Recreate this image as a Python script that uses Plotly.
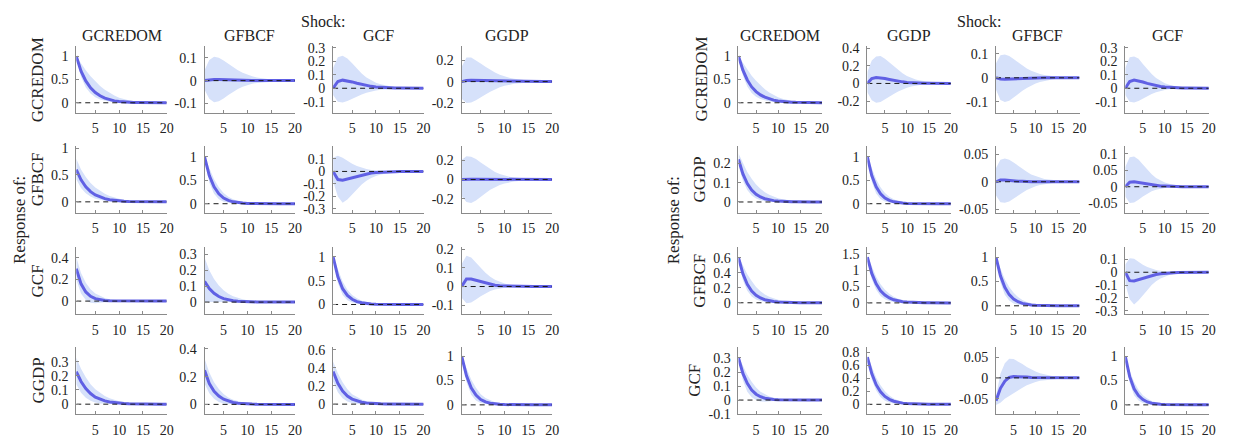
import plotly.graph_objects as go

# ---------------- data ----------------
HORIZON = list(range(1, 21))
X_TICKS = [5, 10, 15, 20]

LEFT_SHOCKS = ["GCREDOM", "GFBCF", "GCF", "GGDP"]
LEFT_RESP = ["GCREDOM", "GFBCF", "GCF", "GGDP"]
RIGHT_SHOCKS = ["GCREDOM", "GGDP", "GFBCF", "GCF"]
RIGHT_RESP = ["GCREDOM", "GGDP", "GFBCF", "GCF"]

# ---- left block ----
L11_mid = [1.00, 0.68, 0.47, 0.32, 0.22, 0.15, 0.10, 0.065, 0.04, 0.025, 0.015, 0.01, 0.006, 0.004, 0.002, 0.001, 0.001, 0, 0, 0]
L11_hi = [1.00, 0.84, 0.70, 0.57, 0.46, 0.36, 0.28, 0.21, 0.155, 0.11, 0.08, 0.055, 0.038, 0.026, 0.018, 0.012, 0.008, 0.005, 0.003, 0.002]
L11_lo = [1.00, 0.56, 0.33, 0.20, 0.12, 0.07, 0.04, 0.022, 0.012, 0.006, 0.003, 0.001, 0, 0, 0, 0, 0, 0, 0, 0]
L11_ticks = [0, 0.5, 1]
L11_range = [-0.21, 1.21]

L12_mid = [0, 0.004, 0.005, 0.005, 0.004, 0.004, 0.003, 0.003, 0.002, 0.002, 0.001, 0.001, 0.001, 0.001, 0, 0, 0, 0, 0, 0]
L12_hi = [0.045, 0.09, 0.105, 0.10, 0.088, 0.073, 0.058, 0.045, 0.034, 0.026, 0.019, 0.014, 0.01, 0.007, 0.005, 0.004, 0.003, 0.002, 0.002, 0.001]
L12_lo = [-0.04, -0.08, -0.095, -0.09, -0.078, -0.063, -0.049, -0.037, -0.027, -0.02, -0.014, -0.01, -0.007, -0.005, -0.004, -0.003, -0.002, -0.001, -0.001, -0.001]
L12_ticks = [-0.1, 0, 0.1]
L12_range = [-0.14, 0.15]

L13_mid = [0, 0.05, 0.06, 0.056, 0.047, 0.037, 0.028, 0.02, 0.014, 0.01, 0.007, 0.005, 0.003, 0.002, 0.001, 0.001, 0, 0, 0, 0]
L13_hi = [0.15, 0.23, 0.24, 0.22, 0.185, 0.145, 0.11, 0.08, 0.058, 0.041, 0.029, 0.02, 0.014, 0.01, 0.007, 0.005, 0.003, 0.002, 0.002, 0.001]
L13_lo = [-0.05, -0.1, -0.105, -0.095, -0.08, -0.062, -0.046, -0.033, -0.023, -0.016, -0.011, -0.007, -0.005, -0.003, -0.002, -0.001, -0.001, 0, 0, 0]
L13_ticks = [-0.1, 0, 0.1, 0.2, 0.3]
L13_range = [-0.18, 0.31]

L14_mid = [0, 0.01, 0.012, 0.011, 0.009, 0.007, 0.005, 0.004, 0.003, 0.002, 0.001, 0.001, 0.001, 0, 0, 0, 0, 0, 0, 0]
L14_hi = [0.14, 0.225, 0.225, 0.2, 0.17, 0.14, 0.11, 0.085, 0.065, 0.048, 0.036, 0.026, 0.019, 0.014, 0.01, 0.007, 0.005, 0.004, 0.003, 0.002]
L14_lo = [-0.16, -0.2, -0.195, -0.175, -0.15, -0.12, -0.095, -0.072, -0.054, -0.04, -0.029, -0.021, -0.015, -0.011, -0.008, -0.006, -0.004, -0.003, -0.002, -0.001]
L14_ticks = [-0.2, 0, 0.2]
L14_range = [-0.29, 0.33]

L21_mid = [0.6, 0.41, 0.28, 0.19, 0.13, 0.088, 0.06, 0.041, 0.028, 0.019, 0.013, 0.009, 0.006, 0.004, 0.003, 0.002, 0.001, 0.001, 0, 0]
L21_hi = [0.8, 0.6, 0.46, 0.35, 0.265, 0.2, 0.15, 0.11, 0.08, 0.057, 0.04, 0.028, 0.02, 0.014, 0.01, 0.007, 0.005, 0.003, 0.002, 0.002]
L21_lo = [0.42, 0.26, 0.16, 0.1, 0.06, 0.036, 0.021, 0.012, 0.007, 0.004, 0.002, 0.001, 0, 0, 0, 0, 0, 0, 0, 0]
L21_ticks = [0, 0.5, 1]
L21_range = [-0.2, 1.03]

L22_mid = [1, 0.6, 0.36, 0.21, 0.12, 0.07, 0.04, 0.023, 0.013, 0.007, 0.004, 0.002, 0.001, 0.001, 0, 0, 0, 0, 0, 0]
L22_hi = [1, 0.75, 0.52, 0.35, 0.23, 0.15, 0.095, 0.06, 0.037, 0.023, 0.014, 0.009, 0.005, 0.003, 0.002, 0.001, 0.001, 0, 0, 0]
L22_lo = [1, 0.45, 0.21, 0.095, 0.042, 0.018, 0.007, 0.003, 0.001, 0, 0, 0, 0, 0, 0, 0, 0, 0, 0, 0]
L22_ticks = [0, 0.5, 1]
L22_range = [-0.19, 1.22]

L23_mid = [0, -0.065, -0.07, -0.06, -0.048, -0.037, -0.027, -0.019, -0.013, -0.009, -0.006, -0.004, -0.003, -0.002, -0.001, -0.001, 0, 0, 0, 0]
L23_hi = [0.11, 0.125, 0.11, 0.085, 0.062, 0.043, 0.029, 0.019, 0.012, 0.008, 0.005, 0.003, 0.002, 0.001, 0.001, 0, 0, 0, 0, 0]
L23_lo = [-0.08, -0.2, -0.25, -0.225, -0.185, -0.145, -0.105, -0.075, -0.052, -0.036, -0.025, -0.017, -0.011, -0.007, -0.005, -0.003, -0.002, -0.001, -0.001, 0]
L23_ticks = [-0.3, -0.2, -0.1, 0, 0.1]
L23_range = [-0.33, 0.2]

L24_mid = [0, 0.004, 0.004, 0.003, 0.003, 0.002, 0.002, 0.001, 0.001, 0.001, 0, 0, 0, 0, 0, 0, 0, 0, 0, 0]
L24_hi = [0.2, 0.24, 0.235, 0.21, 0.175, 0.14, 0.105, 0.078, 0.057, 0.041, 0.029, 0.021, 0.015, 0.01, 0.007, 0.005, 0.004, 0.003, 0.002, 0.001]
L24_lo = [-0.17, -0.23, -0.24, -0.215, -0.18, -0.14, -0.105, -0.078, -0.057, -0.041, -0.029, -0.021, -0.015, -0.01, -0.007, -0.005, -0.004, -0.003, -0.002, -0.001]
L24_ticks = [-0.2, 0, 0.2]
L24_range = [-0.34, 0.34]

L31_mid = [0.3, 0.16, 0.085, 0.045, 0.023, 0.012, 0.006, 0.003, 0.002, 0.001, 0, 0, 0, 0, 0, 0, 0, 0, 0, 0]
L31_hi = [0.41, 0.26, 0.17, 0.11, 0.07, 0.045, 0.028, 0.018, 0.011, 0.007, 0.004, 0.003, 0.002, 0.001, 0.001, 0, 0, 0, 0, 0]
L31_lo = [0.2, 0.07, 0.01, -0.015, -0.02, -0.015, -0.01, -0.006, -0.003, -0.002, -0.001, 0, 0, 0, 0, 0, 0, 0, 0, 0]
L31_ticks = [0, 0.2, 0.4]
L31_range = [-0.12, 0.5]

L32_mid = [0.13, 0.085, 0.055, 0.035, 0.022, 0.013, 0.008, 0.005, 0.003, 0.002, 0.001, 0.001, 0, 0, 0, 0, 0, 0, 0, 0]
L32_hi = [0.28, 0.2, 0.145, 0.105, 0.075, 0.053, 0.037, 0.026, 0.018, 0.012, 0.008, 0.005, 0.003, 0.002, 0.001, 0.001, 0, 0, 0, 0]
L32_lo = [-0.005, 0, 0, -0.002, -0.003, -0.003, -0.002, -0.002, -0.001, -0.001, 0, 0, 0, 0, 0, 0, 0, 0, 0, 0]
L32_ticks = [0, 0.1, 0.2, 0.3]
L32_range = [-0.075, 0.345]

L33_mid = [1, 0.58, 0.33, 0.19, 0.11, 0.06, 0.035, 0.02, 0.011, 0.006, 0.003, 0.002, 0.001, 0, 0, 0, 0, 0, 0, 0]
L33_hi = [1, 0.72, 0.48, 0.31, 0.2, 0.13, 0.08, 0.05, 0.03, 0.018, 0.011, 0.007, 0.004, 0.002, 0.001, 0.001, 0, 0, 0, 0]
L33_lo = [1, 0.45, 0.2, 0.09, 0.04, 0.017, 0.007, 0.003, 0.001, 0, 0, 0, 0, 0, 0, 0, 0, 0, 0, 0]
L33_ticks = [0, 0.5, 1]
L33_range = [-0.2, 1.2]

L34_mid = [0, 0.04, 0.04, 0.033, 0.025, 0.017, 0.011, 0.007, 0.004, 0.003, 0.002, 0.001, 0.001, 0, 0, 0, 0, 0, 0, 0]
L34_hi = [0.12, 0.165, 0.155, 0.13, 0.1, 0.074, 0.052, 0.036, 0.024, 0.016, 0.01, 0.007, 0.004, 0.003, 0.002, 0.001, 0.001, 0, 0, 0]
L34_lo = [-0.06, -0.09, -0.085, -0.07, -0.052, -0.036, -0.024, -0.016, -0.01, -0.006, -0.004, -0.002, -0.001, -0.001, 0, 0, 0, 0, 0, 0]
L34_ticks = [-0.1, 0, 0.1, 0.2]
L34_range = [-0.147, 0.21]

L41_mid = [0.23, 0.16, 0.11, 0.075, 0.05, 0.034, 0.023, 0.015, 0.01, 0.007, 0.005, 0.003, 0.002, 0.001, 0.001, 0, 0, 0, 0, 0]
L41_hi = [0.33, 0.25, 0.19, 0.14, 0.105, 0.078, 0.057, 0.041, 0.03, 0.021, 0.015, 0.011, 0.008, 0.005, 0.004, 0.003, 0.002, 0.001, 0.001, 0.001]
L41_lo = [0.14, 0.08, 0.045, 0.025, 0.012, 0.005, 0.002, 0.001, 0, 0, 0, 0, 0, 0, 0, 0, 0, 0, 0, 0]
L41_ticks = [0, 0.1, 0.2, 0.3]
L41_range = [-0.07, 0.4]

L42_mid = [0.245, 0.15, 0.095, 0.06, 0.037, 0.023, 0.014, 0.009, 0.005, 0.003, 0.002, 0.001, 0.001, 0, 0, 0, 0, 0, 0, 0]
L42_hi = [0.33, 0.23, 0.16, 0.11, 0.075, 0.05, 0.034, 0.023, 0.015, 0.01, 0.007, 0.005, 0.003, 0.002, 0.001, 0.001, 0, 0, 0, 0]
L42_lo = [0.15, 0.08, 0.04, 0.018, 0.007, 0.002, 0, -0.001, -0.001, 0, 0, 0, 0, 0, 0, 0, 0, 0, 0, 0]
L42_ticks = [0, 0.2, 0.4]
L42_range = [-0.07, 0.41]

L43_mid = [0.36, 0.23, 0.145, 0.09, 0.056, 0.035, 0.021, 0.013, 0.008, 0.005, 0.003, 0.002, 0.001, 0.001, 0, 0, 0, 0, 0, 0]
L43_hi = [0.47, 0.34, 0.24, 0.165, 0.11, 0.075, 0.05, 0.033, 0.022, 0.014, 0.009, 0.006, 0.004, 0.002, 0.002, 0.001, 0.001, 0, 0, 0]
L43_lo = [0.25, 0.13, 0.065, 0.03, 0.012, 0.004, 0.001, 0, 0, 0, 0, 0, 0, 0, 0, 0, 0, 0, 0, 0]
L43_ticks = [0, 0.2, 0.4, 0.6]
L43_range = [-0.11, 0.625]

L44_mid = [1, 0.6, 0.35, 0.2, 0.11, 0.06, 0.035, 0.02, 0.011, 0.006, 0.003, 0.002, 0.001, 0, 0, 0, 0, 0, 0, 0]
L44_hi = [1, 0.75, 0.52, 0.35, 0.22, 0.14, 0.09, 0.055, 0.034, 0.02, 0.012, 0.007, 0.004, 0.003, 0.002, 0.001, 0, 0, 0, 0]
L44_lo = [1, 0.47, 0.21, 0.09, 0.04, 0.016, 0.006, 0.002, 0, 0, 0, 0, 0, 0, 0, 0, 0, 0, 0, 0]
L44_ticks = [0, 0.5, 1]
L44_range = [-0.19, 1.18]

# ---- right block ----
R11_mid = [1, 0.7, 0.49, 0.34, 0.24, 0.17, 0.12, 0.08, 0.056, 0.039, 0.027, 0.019, 0.013, 0.009, 0.006, 0.004, 0.003, 0.002, 0.001, 0.001]
R11_hi = [1, 0.85, 0.71, 0.58, 0.47, 0.37, 0.29, 0.22, 0.165, 0.12, 0.088, 0.063, 0.045, 0.032, 0.022, 0.015, 0.01, 0.007, 0.005, 0.003]
R11_lo = [1, 0.58, 0.35, 0.21, 0.13, 0.08, 0.048, 0.028, 0.016, 0.009, 0.005, 0.003, 0.001, 0.001, 0, 0, 0, 0, 0, 0]
R11_ticks = [0, 0.5, 1]
R11_range = [-0.21, 1.21]

R12_mid = [0, 0.055, 0.068, 0.064, 0.055, 0.045, 0.034, 0.025, 0.018, 0.012, 0.008, 0.005, 0.004, 0.002, 0.002, 0.001, 0.001, 0, 0, 0]
R12_hi = [0.13, 0.26, 0.305, 0.31, 0.28, 0.24, 0.19, 0.15, 0.115, 0.085, 0.063, 0.046, 0.034, 0.025, 0.018, 0.013, 0.009, 0.006, 0.004, 0.003]
R12_lo = [-0.1, -0.19, -0.22, -0.21, -0.18, -0.15, -0.12, -0.09, -0.066, -0.048, -0.035, -0.025, -0.018, -0.013, -0.009, -0.006, -0.004, -0.003, -0.002, -0.001]
R12_ticks = [-0.2, 0, 0.2, 0.4]
R12_range = [-0.33, 0.42]

R13_mid = [0, -0.005, -0.006, -0.005, -0.004, -0.003, -0.002, -0.002, -0.001, -0.001, 0, 0, 0, 0, 0, 0, 0, 0, 0, 0]
R13_hi = [0.06, 0.093, 0.096, 0.09, 0.078, 0.064, 0.05, 0.038, 0.029, 0.021, 0.016, 0.011, 0.008, 0.006, 0.004, 0.003, 0.002, 0.002, 0.001, 0.001]
R13_lo = [-0.05, -0.092, -0.1, -0.095, -0.082, -0.068, -0.054, -0.042, -0.032, -0.024, -0.017, -0.012, -0.009, -0.006, -0.004, -0.003, -0.002, -0.002, -0.001, -0.001]
R13_ticks = [-0.1, 0, 0.1]
R13_range = [-0.144, 0.13]

R14_mid = [0, 0.05, 0.06, 0.055, 0.046, 0.036, 0.027, 0.019, 0.013, 0.009, 0.006, 0.004, 0.002, 0.001, 0.001, 0, 0, 0, 0, 0]
R14_hi = [0.15, 0.23, 0.235, 0.22, 0.18, 0.14, 0.105, 0.075, 0.053, 0.037, 0.026, 0.018, 0.012, 0.008, 0.006, 0.004, 0.003, 0.002, 0.001, 0.001]
R14_lo = [-0.05, -0.1, -0.105, -0.095, -0.078, -0.06, -0.043, -0.03, -0.02, -0.013, -0.008, -0.005, -0.003, -0.002, -0.001, -0.001, 0, 0, 0, 0]
R14_ticks = [-0.1, 0, 0.1, 0.2, 0.3]
R14_range = [-0.18, 0.31]

R21_mid = [0.22, 0.145, 0.095, 0.062, 0.04, 0.026, 0.017, 0.011, 0.007, 0.005, 0.003, 0.002, 0.001, 0.001, 0, 0, 0, 0, 0, 0]
R21_hi = [0.25, 0.2, 0.155, 0.12, 0.09, 0.068, 0.05, 0.037, 0.027, 0.019, 0.014, 0.01, 0.007, 0.005, 0.003, 0.002, 0.002, 0.001, 0.001, 0]
R21_lo = [0.19, 0.11, 0.062, 0.034, 0.018, 0.009, 0.004, 0.002, 0.001, 0, 0, 0, 0, 0, 0, 0, 0, 0, 0, 0]
R21_ticks = [0, 0.1, 0.2]
R21_range = [-0.055, 0.287]

R22_mid = [1, 0.6, 0.36, 0.21, 0.12, 0.07, 0.04, 0.023, 0.013, 0.007, 0.004, 0.002, 0.001, 0.001, 0, 0, 0, 0, 0, 0]
R22_hi = [1, 0.74, 0.52, 0.35, 0.23, 0.15, 0.095, 0.06, 0.037, 0.023, 0.014, 0.009, 0.005, 0.003, 0.002, 0.001, 0.001, 0, 0, 0]
R22_lo = [1, 0.47, 0.22, 0.1, 0.045, 0.02, 0.008, 0.003, 0.001, 0, 0, 0, 0, 0, 0, 0, 0, 0, 0, 0]
R22_ticks = [0, 0.5, 1]
R22_range = [-0.19, 1.22]

R23_mid = [0, 0.003, 0.003, 0.002, 0.002, 0.001, 0.001, 0, 0, 0, 0, 0, 0, 0, 0, 0, 0, 0, 0, 0]
R23_hi = [0.025, 0.04, 0.042, 0.04, 0.035, 0.029, 0.023, 0.018, 0.013, 0.01, 0.007, 0.005, 0.004, 0.003, 0.002, 0.001, 0.001, 0.001, 0, 0]
R23_lo = [-0.025, -0.037, -0.038, -0.036, -0.031, -0.025, -0.02, -0.015, -0.011, -0.008, -0.006, -0.004, -0.003, -0.002, -0.001, -0.001, -0.001, 0, 0, 0]
R23_ticks = [-0.05, 0, 0.05]
R23_range = [-0.056, 0.064]

R24_mid = [0, 0.014, 0.015, 0.013, 0.01, 0.008, 0.005, 0.004, 0.002, 0.002, 0.001, 0.001, 0, 0, 0, 0, 0, 0, 0, 0]
R24_hi = [0.06, 0.09, 0.092, 0.083, 0.068, 0.052, 0.038, 0.027, 0.019, 0.013, 0.009, 0.006, 0.004, 0.003, 0.002, 0.001, 0.001, 0, 0, 0]
R24_lo = [-0.03, -0.05, -0.048, -0.04, -0.03, -0.021, -0.014, -0.009, -0.006, -0.004, -0.002, -0.001, -0.001, 0, 0, 0, 0, 0, 0, 0]
R24_ticks = [-0.05, 0, 0.05, 0.1]
R24_range = [-0.079, 0.123]

R31_mid = [0.6, 0.385, 0.245, 0.157, 0.1, 0.064, 0.041, 0.026, 0.017, 0.011, 0.007, 0.004, 0.003, 0.002, 0.001, 0.001, 0, 0, 0, 0]
R31_hi = [0.62, 0.5, 0.38, 0.29, 0.21, 0.155, 0.11, 0.08, 0.057, 0.04, 0.028, 0.02, 0.014, 0.01, 0.007, 0.005, 0.003, 0.002, 0.002, 0.001]
R31_lo = [0.58, 0.3, 0.16, 0.085, 0.045, 0.023, 0.012, 0.006, 0.003, 0.001, 0, 0, 0, 0, 0, 0, 0, 0, 0, 0]
R31_ticks = [0, 0.2, 0.4, 0.6]
R31_range = [-0.15, 0.74]

R32_mid = [1.4, 0.9, 0.58, 0.37, 0.24, 0.15, 0.095, 0.06, 0.038, 0.024, 0.015, 0.01, 0.006, 0.004, 0.002, 0.002, 0.001, 0.001, 0, 0]
R32_hi = [1.45, 1.1, 0.8, 0.57, 0.4, 0.28, 0.19, 0.13, 0.09, 0.06, 0.04, 0.027, 0.018, 0.012, 0.008, 0.005, 0.003, 0.002, 0.002, 0.001]
R32_lo = [1.3, 0.72, 0.4, 0.21, 0.11, 0.055, 0.027, 0.012, 0.005, 0.002, 0.001, 0, 0, 0, 0, 0, 0, 0, 0, 0]
R32_ticks = [0, 0.5, 1, 1.5]
R32_range = [-0.34, 1.7]

R33_mid = [1, 0.62, 0.38, 0.23, 0.14, 0.085, 0.05, 0.03, 0.018, 0.011, 0.006, 0.004, 0.002, 0.001, 0.001, 0, 0, 0, 0, 0]
R33_hi = [1, 0.76, 0.55, 0.39, 0.27, 0.18, 0.12, 0.08, 0.052, 0.034, 0.022, 0.014, 0.009, 0.006, 0.004, 0.002, 0.001, 0.001, 0, 0]
R33_lo = [1, 0.48, 0.23, 0.11, 0.05, 0.022, 0.009, 0.003, 0.001, 0, 0, 0, 0, 0, 0, 0, 0, 0, 0, 0]
R33_ticks = [0, 0.5, 1]
R33_range = [-0.17, 1.21]

R34_mid = [0, -0.065, -0.068, -0.058, -0.047, -0.036, -0.026, -0.018, -0.012, -0.008, -0.005, -0.003, -0.002, -0.001, -0.001, 0, 0, 0, 0, 0]
R34_hi = [0.06, 0.11, 0.105, 0.08, 0.058, 0.04, 0.027, 0.018, 0.012, 0.007, 0.004, 0.003, 0.002, 0.001, 0.001, 0, 0, 0, 0, 0]
R34_lo = [-0.09, -0.21, -0.25, -0.22, -0.18, -0.14, -0.1, -0.07, -0.048, -0.033, -0.022, -0.015, -0.01, -0.007, -0.005, -0.003, -0.002, -0.001, -0.001, 0]
R34_ticks = [-0.3, -0.2, -0.1, 0, 0.1]
R34_range = [-0.325, 0.195]

R41_mid = [0.3, 0.19, 0.12, 0.072, 0.042, 0.024, 0.013, 0.007, 0.004, 0.002, 0.001, 0.001, 0, 0, 0, 0, 0, 0, 0, 0]
R41_hi = [0.31, 0.24, 0.18, 0.13, 0.09, 0.06, 0.04, 0.026, 0.017, 0.011, 0.007, 0.004, 0.003, 0.002, 0.001, 0.001, 0, 0, 0, 0]
R41_lo = [0.29, 0.14, 0.06, 0.02, 0, -0.01, -0.012, -0.01, -0.007, -0.005, -0.003, -0.002, -0.001, -0.001, 0, 0, 0, 0, 0, 0]
R41_ticks = [-0.1, 0, 0.1, 0.2, 0.3]
R41_range = [-0.1, 0.375]

R42_mid = [0.72, 0.47, 0.3, 0.19, 0.12, 0.076, 0.047, 0.029, 0.018, 0.011, 0.007, 0.004, 0.003, 0.002, 0.001, 0.001, 0, 0, 0, 0]
R42_hi = [0.75, 0.57, 0.41, 0.29, 0.2, 0.135, 0.09, 0.06, 0.04, 0.026, 0.017, 0.011, 0.007, 0.005, 0.003, 0.002, 0.001, 0.001, 0, 0]
R42_lo = [0.68, 0.38, 0.21, 0.11, 0.055, 0.027, 0.012, 0.005, 0.002, 0.001, 0, 0, 0, 0, 0, 0, 0, 0, 0, 0]
R42_ticks = [0, 0.2, 0.4, 0.6, 0.8]
R42_range = [-0.15, 0.87]

R43_mid = [-0.055, -0.025, -0.008, 0.001, 0.003, 0.003, 0.002, 0.002, 0.001, 0.001, 0, 0, 0, 0, 0, 0, 0, 0, 0, 0]
R43_hi = [-0.045, 0.01, 0.035, 0.046, 0.045, 0.04, 0.033, 0.026, 0.02, 0.015, 0.011, 0.008, 0.006, 0.004, 0.003, 0.002, 0.001, 0.001, 0.001, 0]
R43_lo = [-0.065, -0.06, -0.05, -0.042, -0.036, -0.03, -0.024, -0.018, -0.014, -0.01, -0.007, -0.005, -0.004, -0.003, -0.002, -0.001, -0.001, 0, 0, 0]
R43_ticks = [-0.05, 0, 0.05]
R43_range = [-0.087, 0.073]

R44_mid = [1, 0.58, 0.33, 0.19, 0.11, 0.06, 0.035, 0.02, 0.011, 0.006, 0.003, 0.002, 0.001, 0, 0, 0, 0, 0, 0, 0]
R44_hi = [1, 0.7, 0.47, 0.31, 0.2, 0.13, 0.08, 0.05, 0.03, 0.018, 0.011, 0.007, 0.004, 0.002, 0.001, 0.001, 0, 0, 0, 0]
R44_lo = [1, 0.46, 0.2, 0.09, 0.04, 0.017, 0.007, 0.003, 0.001, 0, 0, 0, 0, 0, 0, 0, 0, 0, 0, 0]
R44_ticks = [0, 0.5, 1]
R44_range = [-0.19, 1.18]

ZERO = [0] * len(HORIZON)

# ---------------- layout geometry (pixels) ----------------
W, H = 1236, 447
LEFT_X0 = [76.7, 205.7, 335.0, 464.3]
LEFT_W = 91.0
RIGHT_X0 = [742.7, 872.3, 1001.7, 1131.7]
RIGHT_W = 84.0
ROW_TOP = [41.7, 145.0, 249.0, 352.5]
ROW_BOT = [110.0, 213.3, 318.0, 421.3]

FONT = "Liberation Serif, Times New Roman, serif"
TXT = "#222222"
AXC = "#8a8a8a"
BAND = "rgb(214,225,250)"
LINE = "rgb(96,96,228)"

g = globals()
fig = go.Figure()
layout = {}
annotations = []

k = 0
for side, x0s, wcol in (("L", LEFT_X0, LEFT_W), ("R", RIGHT_X0, RIGHT_W)):
    for r in range(4):
        for c in range(4):
            k += 1
            key = f"{side}{r+1}{c+1}"
            mid = g[key + "_mid"]
            lo = g[key + "_lo"]
            hi = g[key + "_hi"]
            yt = g[key + "_ticks"]
            yr = g[key + "_range"]
            xa = "x" if k == 1 else f"x{k}"
            ya = "y" if k == 1 else f"y{k}"
            fig.add_trace(go.Scatter(
                x=HORIZON + HORIZON[::-1], y=hi + lo[::-1], fill="toself",
                fillcolor=BAND, line=dict(width=0, color=BAND), mode="lines",
                hoverinfo="skip", showlegend=False, xaxis=xa, yaxis=ya))
            fig.add_trace(go.Scatter(
                x=HORIZON, y=mid, mode="lines", line=dict(color=LINE, width=3),
                showlegend=False, xaxis=xa, yaxis=ya))
            fig.add_trace(go.Scatter(
                x=HORIZON, y=ZERO, mode="lines",
                line=dict(color="#1a1a1a", width=1, dash="5px,4px"),
                showlegend=False, xaxis=xa, yaxis=ya))
            x0 = x0s[c]
            common = dict(showline=True, linecolor=AXC, linewidth=1, mirror=False,
                          showgrid=False, zeroline=False, ticks="inside", ticklen=3,
                          tickcolor=AXC, tickwidth=1,
                          tickfont=dict(family=FONT, size=14, color=TXT))
            layout["xaxis" if k == 1 else f"xaxis{k}"] = dict(
                domain=[x0 / W, (x0 + wcol) / W], range=[1, 20],
                anchor=ya, tickvals=X_TICKS, ticktext=[str(v) for v in X_TICKS],
                ticklabelstandoff=3, **common)
            layout["yaxis" if k == 1 else f"yaxis{k}"] = dict(
                domain=[1 - ROW_BOT[r] / H, 1 - ROW_TOP[r] / H], range=yr,
                anchor=xa, tickvals=yt, ticktext=[f"{v:g}" for v in yt],
                ticklabelstandoff=4, **common)

# column titles
for x0s, wcol, names in ((LEFT_X0, LEFT_W, LEFT_SHOCKS), (RIGHT_X0, RIGHT_W, RIGHT_SHOCKS)):
    for c in range(4):
        annotations.append(dict(text=names[c], x=(x0s[c] + wcol / 2) / W, y=1 - 30 / H,
                                xref="paper", yref="paper", showarrow=False,
                                xanchor="center", yanchor="middle",
                                font=dict(family=FONT, size=16, color=TXT)))

# "Shock:" labels
for xs in (325, 985):
    annotations.append(dict(text="Shock:", x=xs / W, y=1 - 15.7 / H, xref="paper", yref="paper",
                            showarrow=False, xanchor="center", yanchor="middle",
                            font=dict(family=FONT, size=16, color=TXT)))

# row labels
LEFT_ROWLAB_X = [38, 38, 38, 39]
RIGHT_ROWLAB_X = [705, 704, 704, 699]
for xs, names in ((LEFT_ROWLAB_X, LEFT_RESP), (RIGHT_ROWLAB_X, RIGHT_RESP)):
    for r in range(4):
        yc = (ROW_TOP[r] + ROW_BOT[r]) / 2
        annotations.append(dict(text=names[r], x=xs[r] / W, y=1 - yc / H, xref="paper", yref="paper",
                                showarrow=False, textangle=-90, xanchor="center", yanchor="middle",
                                font=dict(family=FONT, size=17, color=TXT)))

for xs in (19, 677):
    annotations.append(dict(text="Response of:", x=xs / W, y=1 - 221 / H, xref="paper", yref="paper",
                            showarrow=False, textangle=-90, xanchor="center", yanchor="middle",
                            font=dict(family=FONT, size=17, color=TXT)))

fig.update_layout(width=W, height=H, margin=dict(l=0, r=0, t=0, b=0),
                  paper_bgcolor="white", plot_bgcolor="white",
                  annotations=annotations, showlegend=False, **layout)

fig.write_html("out.html")
